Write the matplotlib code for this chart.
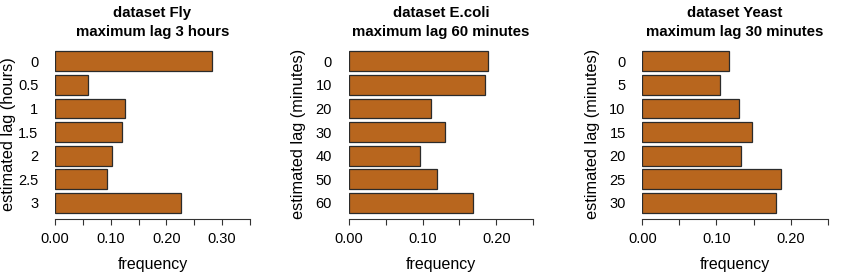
import numpy as np
import matplotlib
matplotlib.use("Agg")
import matplotlib.pyplot as plt

plt.rcParams['font.family'] = ['Liberation Sans', 'DejaVu Sans']

# data
fly_lags = ["0", "0.5", "1", "1.5", "2", "2.5", "3"]
fly_freq = [0.282, 0.059, 0.125, 0.120, 0.102, 0.094, 0.226]

ecoli_lags = ["0", "10", "20", "30", "40", "50", "60"]
ecoli_freq = [0.189, 0.185, 0.111, 0.131, 0.096, 0.120, 0.169]

yeast_lags = ["0", "5", "10", "15", "20", "25", "30"]
yeast_freq = [0.117, 0.105, 0.130, 0.148, 0.133, 0.187, 0.180]

titles = ["dataset Fly\nmaximum lag 3 hours",
          "dataset E.coli\nmaximum lag 60 minutes",
          "dataset Yeast\nmaximum lag 30 minutes"]
ylabels = ["estimated lag (hours)", "estimated lag (minutes)", "estimated lag (minutes)"]
xmaxes = [0.35, 0.25, 0.25]
xticklabels = [["0.00", "", "0.10", "", "0.20", "", "0.30", ""],
               ["0.00", "", "0.10", "", "0.20", ""],
               ["0.00", "", "0.10", "", "0.20", ""]]

W, H = 850, 275
fig = plt.figure(figsize=(W / 100, H / 100), dpi=100)

# pixel extents of each panel (x left, x right)
lefts = [55, 348.7, 642.3]
rights = [250, 533.3, 827.7]
bottom_px = 219.3
top_px = 44.8

datasets = [(fly_lags, fly_freq), (ecoli_lags, ecoli_freq), (yeast_lags, yeast_freq)]
ylab_x = [9, 299, 593]

for i, (lags, freq) in enumerate(datasets):
    ax = fig.add_axes([lefts[i] / W, 1 - bottom_px / H,
                       (rights[i] - lefts[i]) / W, (bottom_px - top_px) / H])
    pos = 0.7 + 1.2 * np.arange(len(lags))
    ax.barh(pos, freq, height=1.0, color='#b8661e', edgecolor='#2b2b2b', linewidth=0.9)
    ax.set_ylim(8.728, -0.128)
    ax.set_xlim(0, xmaxes[i])
    ticks = np.arange(0, xmaxes[i] + 1e-9, 0.05)
    ax.set_xticks(ticks)
    ax.set_xticklabels(xticklabels[i], fontsize=10.5)
    ax.set_yticks(pos)
    ax.set_yticklabels(lags, fontsize=10.5)
    ax.tick_params(axis='y', length=0, pad=12)
    ax.tick_params(axis='x', length=4, width=0.8, color='#333333', pad=5)
    for s in ['top', 'right', 'left']:
        ax.spines[s].set_visible(False)
    ax.spines['bottom'].set_bounds(0, xmaxes[i])
    ax.spines['bottom'].set_color('#333333')
    ax.spines['bottom'].set_linewidth(0.8)
    ax.set_xlabel("frequency", fontsize=11.5, labelpad=8)
    ax.set_title(titles[i], fontsize=10.8, fontweight='bold', pad=6, linespacing=1.5)
    fig.text(ylab_x[i] / W, 1 - 134 / H, ylabels[i], rotation=90,
             ha='center', va='center', fontsize=11.8)

fig.savefig("out.png", dpi=100)
